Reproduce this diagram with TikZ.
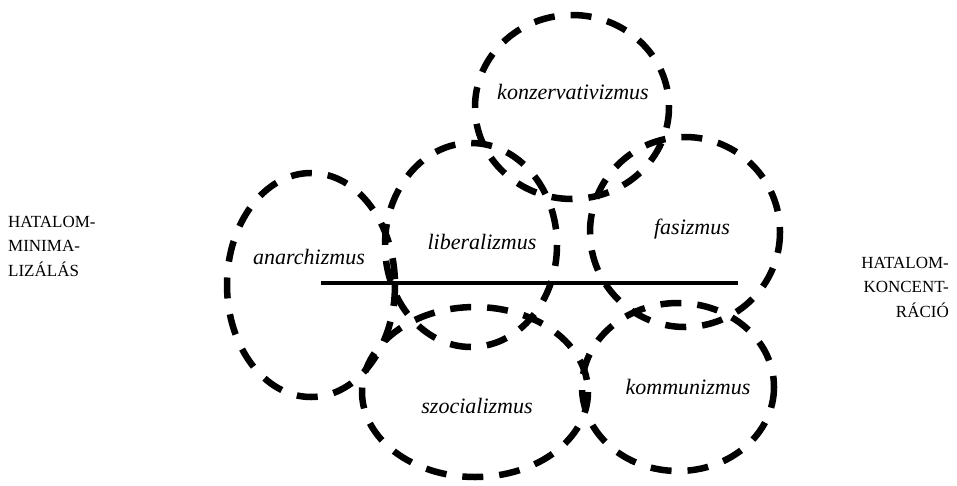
\documentclass[tikz,border=0pt]{standalone}
\usepackage{fontspec}
\setmainfont{Liberation Serif}
\tikzset{
  ring/.style={line width=6.5pt,dash pattern=on 21pt off 16pt},
  ism/.style={font=\fontsize{22}{26}\selectfont\itshape,inner sep=0pt},
  pole/.style={font=\fontsize{17}{24.5}\selectfont,inner sep=0pt}
}
\begin{document}
\begin{tikzpicture}[x=1pt,y=-1pt]
    \useasboundingbox (0,0) rectangle (957,485);
    % the six ideologies
    \foreach \cx/\cy/\rx/\ry in {572/107/97/92, 311/285/84/112, 471/245/86/102,
        685/232/95/95, 678/387/96/84, 475/392/113/85}
    \draw[ring] (\cx,\cy) ellipse [x radius=\rx, y radius=\ry];
    \node[ism] (konz) at (573,92) {konzervativizmus};
    \node[ism] (anar) at (309,257) {anarchizmus};
    \node[ism] (libe) at (482,242) {liberalizmus};
    \node[ism] (fasi) at (692,229) {fasizmus};
    \node[ism] (komm) at (688,387) {kommunizmus};
    \node[ism] (szoc) at (477,406) {szocializmus};
    % axis
    \coordinate (minend) at (321,283);
    \coordinate (maxend) at (738,283);
    \draw[line width=4pt] (minend) -- (maxend);
    \node[pole,align=left,anchor=north west] (minpole) at (8,216) {HATALOM-\\MINIMA-\\LIZÁLÁS};
    \node[pole,align=right,anchor=north east] (maxpole) at (949,257) {HATALOM-\\KONCENT-\\RÁCIÓ};
  \end{tikzpicture}
\end{document}
